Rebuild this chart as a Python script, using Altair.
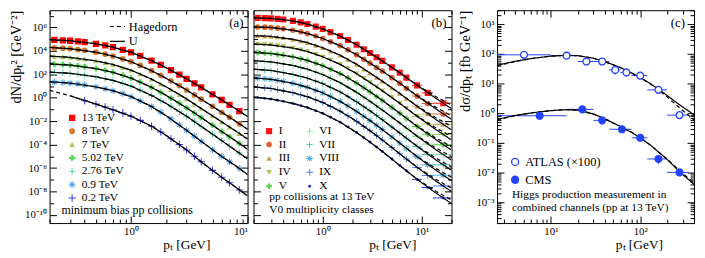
import altair as alt
import pandas as pd

FONT = "Liberation Serif"
BLUE = "#2344ff"
H = 215
WA, WB, WC = 200, 200, 199

# ---------------------------------------------------------------- panel (a)
a_series = ["13 TeV", "8 TeV", "7 TeV", "5.02 TeV", "2.76 TeV", "0.9 TeV", "0.2 TeV"]
a_colors = ["#ff0000", "#d27a2e", "#a6c84f", "#4fdc4f", "#3fcfa3", "#4ea6f2", "#3b3bff"]
a_pt = [0.22, 0.26, 0.3, 0.35, 0.4, 0.5, 0.6, 0.7, 0.85, 1.0, 1.2, 1.5, 1.8, 2.2,
        2.6, 3.0, 3.5, 4.0, 5.0, 6.0, 7.0, 8.5]
a_pt_02 = [0.4, 0.5, 0.6, 0.7, 0.85, 1.0, 1.2, 1.5, 1.8, 2.2, 2.6, 3.0, 3.5, 4.0,
           5.0, 6.0, 7.0, 8.5]
# log10 of dN/dpT^2
lg_a_13 = [4.94, 4.91, 4.87, 4.81, 4.75, 4.61, 4.47, 4.32, 4.10, 3.88, 3.58, 3.17, 2.80, 2.36, 1.97, 1.62, 1.22, 0.88, 0.30, -0.19, -0.61, -1.14]
lg_a_8 = [4.27, 4.24, 4.19, 4.12, 4.05, 3.89, 3.73, 3.56, 3.32, 3.08, 2.76, 2.31, 1.92, 1.45, 1.04, 0.66, 0.24, -0.12, -0.73, -1.24, -1.67, -2.22]
lg_a_7 = [3.54, 3.50, 3.45, 3.38, 3.31, 3.15, 3.00, 2.84, 2.60, 2.36, 2.04, 1.59, 1.18, 0.70, 0.28, -0.10, -0.54, -0.91, -1.54, -2.06, -2.50, -3.05]
lg_a_502 = [2.87, 2.84, 2.79, 2.72, 2.65, 2.49, 2.34, 2.17, 1.93, 1.68, 1.35, 0.89, 0.47, -0.02, -0.46, -0.86, -1.31, -1.69, -2.34, -2.88, -3.33, -3.90]
lg_a_276 = [2.17, 2.14, 2.09, 2.02, 1.95, 1.79, 1.64, 1.48, 1.24, 1.00, 0.66, 0.20, -0.23, -0.73, -1.18, -1.58, -2.04, -2.44, -3.10, -3.66, -4.13, -4.72]
lg_a_09 = [1.34, 1.30, 1.25, 1.18, 1.10, 0.93, 0.77, 0.60, 0.35, 0.10, -0.26, -0.75, -1.23, -1.79, -2.31, -2.78, -3.28, -3.72, -4.45, -5.01, -5.46, -6.03]
lg_a_02 = [-0.25, -0.54, -0.79, -1.03, -1.30, -1.57, -1.93, -2.43, -2.92, -3.49, -3.99, -4.46, -5.00, -5.47, -6.20, -6.79, -7.26, -7.87]

a_curve_pt = [0.2, 0.3, 0.5, 0.7, 1.0, 1.5, 2.0, 3.0, 4.0, 6.0, 8.0, 10.0]
lgc_a_13 = [4.96, 4.87, 4.61, 4.32, 3.88, 3.17, 2.57, 1.62, 0.88, -0.19, -0.97, -1.60]
lgc_a_8 = [4.30, 4.19, 3.89, 3.56, 3.08, 2.31, 1.67, 0.66, -0.12, -1.24, -2.04, -2.69]
lgc_a_7 = [3.56, 3.45, 3.15, 2.84, 2.36, 1.59, 0.93, -0.10, -0.91, -2.06, -2.87, -3.52]
lgc_a_502 = [2.89, 2.79, 2.49, 2.17, 1.68, 0.89, 0.21, -0.86, -1.69, -2.88, -3.72, -4.40]
lgc_a_276 = [2.19, 2.09, 1.79, 1.48, 1.00, 0.20, -0.49, -1.58, -2.44, -3.66, -4.54, -5.23]
lgc_a_09 = [1.37, 1.25, 0.93, 0.60, 0.10, -0.75, -1.53, -2.78, -3.72, -5.01, -5.85, -6.55]
lgc_a_02 = [0.63, 0.17, -0.54, -1.03, -1.57, -2.43, -3.21, -4.46, -5.47, -6.79, -7.67, -8.38]

# ---------------------------------------------------------------- panel (b)
b_series = ["I", "II", "III", "IV", "V", "VI", "VII", "VIII", "IX", "X"]
b_colors = ["#ff1414", "#e0602c", "#c9a043", "#a9c64c", "#58d84c", "#7ae08e", "#3fc2a2", "#4fb2e2", "#4a80f0", "#2233d4"]
b_pt = [0.22, 0.26, 0.3, 0.35, 0.4, 0.5, 0.6, 0.7, 0.85, 1.0, 1.2, 1.5, 1.8, 2.2,
        2.6, 3.0, 3.5, 4.0, 5.0, 6.0, 7.0, 9.0, 11.5, 16.5]
b_bin_lo = [8.0, 10.0, 13.0]
b_bin_hi = [10.0, 13.0, 20.0]
lg_b_I = [6.82, 6.80, 6.78, 6.74, 6.69, 6.57, 6.44, 6.30, 6.08, 5.88, 5.61, 5.27, 4.94, 4.53, 4.14, 3.82, 3.46, 3.15, 2.60, 2.14, 1.72, 1.06, 0.42, -0.47]
lg_b_II = [6.05, 6.03, 6.00, 5.95, 5.90, 5.77, 5.64, 5.49, 5.27, 5.06, 4.79, 4.44, 4.10, 3.68, 3.29, 2.96, 2.59, 2.28, 1.72, 1.25, 0.82, 0.15, -0.49, -1.38]
lg_b_III = [5.30, 5.27, 5.24, 5.19, 5.13, 4.99, 4.85, 4.71, 4.48, 4.27, 3.98, 3.63, 3.28, 2.86, 2.45, 2.12, 1.75, 1.42, 0.85, 0.37, -0.06, -0.73, -1.38, -2.27]
lg_b_IV = [4.58, 4.55, 4.51, 4.45, 4.39, 4.25, 4.10, 3.95, 3.71, 3.50, 3.21, 2.85, 2.49, 2.06, 1.65, 1.31, 0.93, 0.60, 0.02, -0.47, -0.91, -1.59, -2.25, -3.14]
lg_b_V = [3.86, 3.82, 3.78, 3.71, 3.65, 3.50, 3.34, 3.19, 2.95, 2.74, 2.44, 2.07, 1.70, 1.26, 0.85, 0.51, 0.11, -0.22, -0.82, -1.32, -1.76, -2.45, -3.11, -4.00]
lg_b_VI = [3.15, 3.11, 3.07, 2.99, 2.91, 2.76, 2.60, 2.45, 2.20, 1.98, 1.67, 1.29, 0.92, 0.47, 0.05, -0.30, -0.69, -1.04, -1.64, -2.15, -2.60, -3.29, -3.96, -4.85]
lg_b_VII = [2.42, 2.37, 2.33, 2.24, 2.16, 2.00, 1.83, 1.68, 1.43, 1.21, 0.89, 0.50, 0.12, -0.34, -0.76, -1.11, -1.52, -1.87, -2.49, -3.01, -3.45, -4.16, -4.83, -5.72]
lg_b_VIII = [1.68, 1.63, 1.58, 1.48, 1.40, 1.24, 1.06, 0.90, 0.64, 0.42, 0.10, -0.30, -0.69, -1.16, -1.58, -1.94, -2.36, -2.71, -3.34, -3.87, -4.32, -5.04, -5.72, -6.61]
lg_b_IX = [0.90, 0.84, 0.79, 0.69, 0.60, 0.43, 0.24, 0.09, -0.18, -0.40, -0.74, -1.14, -1.54, -2.01, -2.45, -2.81, -3.23, -3.60, -4.24, -4.78, -5.23, -5.95, -6.64, -7.53]
lg_b_X = [0.02, -0.05, -0.10, -0.21, -0.30, -0.48, -0.67, -0.83, -1.10, -1.33, -1.67, -2.08, -2.49, -2.97, -3.41, -3.78, -4.21, -4.58, -5.23, -5.78, -6.24, -6.97, -7.66, -8.55]

b_curve_pt = [0.2, 0.3, 0.5, 0.7, 1.0, 1.5, 2.2, 3.0, 4.0, 6.0, 9.0, 14.0, 20.0]
lgu_b_I = [6.83, 6.78, 6.57, 6.30, 5.88, 5.27, 4.53, 3.82, 3.15, 2.14, 1.06, -0.06, -0.93]
lgu_b_II = [6.06, 6.00, 5.77, 5.49, 5.06, 4.44, 3.68, 2.96, 2.28, 1.25, 0.15, -0.97, -1.84]
lgu_b_III = [5.31, 5.24, 4.99, 4.71, 4.27, 3.63, 2.86, 2.12, 1.42, 0.37, -0.73, -1.87, -2.74]
lgu_b_IV = [4.59, 4.51, 4.25, 3.95, 3.50, 2.85, 2.06, 1.31, 0.60, -0.47, -1.59, -2.73, -3.60]
lgu_b_V = [3.87, 3.78, 3.50, 3.19, 2.74, 2.07, 1.26, 0.51, -0.22, -1.32, -2.45, -3.59, -4.47]
lgu_b_VI = [3.16, 3.07, 2.76, 2.45, 1.98, 1.29, 0.47, -0.30, -1.04, -2.15, -3.29, -4.45, -5.32]
lgu_b_VII = [2.44, 2.33, 2.00, 1.68, 1.21, 0.50, -0.34, -1.11, -1.87, -3.01, -4.16, -5.32, -6.20]
lgu_b_VIII = [1.70, 1.58, 1.24, 0.90, 0.42, -0.30, -1.16, -1.94, -2.71, -3.87, -5.04, -6.20, -7.08]
lgu_b_IX = [0.93, 0.79, 0.43, 0.09, -0.40, -1.14, -2.01, -2.81, -3.60, -4.78, -5.95, -7.13, -8.01]
lgu_b_X = [0.06, -0.10, -0.48, -0.83, -1.33, -2.08, -2.97, -3.78, -4.58, -5.78, -6.97, -8.15, -9.03]
# Hagedorn curves coincide with U up to 6 GeV; their tails at 9, 14, 20 GeV
b_tail_pt = [9.0, 14.0, 20.0]
lgh_b_tail = [
    [1.09, 0.09, -0.63], [0.18, -0.82, -1.54], [-0.70, -1.72, -2.44], [-1.56, -2.58, -3.30],
    [-2.42, -3.44, -4.17], [-3.26, -4.30, -5.02], [-4.13, -5.17, -5.90], [-5.01, -6.05, -6.78],
    [-5.92, -6.98, -7.71], [-6.94, -8.00, -8.73],
]

# ---------------------------------------------------------------- panel (c)
c_exps = ["ATLAS (×100)", "CMS"]
atlas_pt = [5, 15, 25, 37.5, 52.5, 70, 100, 160, 275]
atlas_val = [94, 88, 56, 56, 29, 24, 18.7, 6.2, 0.87]
atlas_xlo = [2.5, 10, 20, 30, 45, 60, 80, 120, 200]
atlas_xhi = [10, 20, 30, 45, 60, 80, 120, 200, 350]
atlas_ylo = [82, 74, 44, 46, 20, 17, 15, 5.0, 0.68]
atlas_yhi = [106, 103, 70, 67, 38, 31, 23, 7.5, 1.08]
cms_pt = [7.5, 22.5, 37.5, 62.5, 100, 160, 275]
cms_val = [0.83, 1.36, 0.58, 0.29, 0.15, 0.029, 0.0102]
cms_xlo = [2.5, 15, 30, 45, 80, 120, 200]
cms_xhi = [15, 30, 45, 80, 120, 200, 350]
cms_ylo = [0.66, 1.16, 0.42, 0.23, 0.12, 0.020, 0.0085]
cms_yhi = [1.02, 1.58, 0.75, 0.36, 0.18, 0.038, 0.0120]
c_curve_pt = [2.5, 4, 6, 10, 15, 20, 30, 40, 60, 80, 100, 130, 160, 200, 278, 400]
atlas_u = [42, 57, 70, 85, 91, 88, 72, 56, 35, 23, 16, 10, 6.5, 4.0, 1.9, 0.9]
atlas_h = [40, 56, 70, 85, 91, 88, 72, 56, 35, 23, 16, 9.8, 6.2, 3.6, 1.5, 0.6]
cms_u = [0.62, 0.85, 1.03, 1.24, 1.33, 1.28, 0.95, 0.66, 0.36, 0.23, 0.15, 0.085, 0.05, 0.028, 0.0105, 0.0040]
cms_h = [0.60, 0.84, 1.03, 1.24, 1.33, 1.28, 0.95, 0.66, 0.36, 0.23, 0.15, 0.085, 0.05, 0.029, 0.0112, 0.0046]

# ---------------------------------------------------------------- helpers
THIN_PLUS = "M-1,-0.14H-0.14V-1H0.14V-0.14H1V0.14H0.14V1H-0.14V0.14H-1Z"
ASTER = THIN_PLUS + " M-0.8,-0.6L-0.6,-0.8L0.8,0.6L0.6,0.8Z M0.6,-0.8L0.8,-0.6L-0.6,0.8L-0.8,0.6Z"
a_shapes = ["square", "circle", "triangle-up", "cross", THIN_PLUS, ASTER, THIN_PLUS]
a_sizes = [40, 34, 32, 34, 44, 46, 56]
b_shapes = ["square", "circle", "triangle-up", "triangle-down", "cross", THIN_PLUS, THIN_PLUS, ASTER, THIN_PLUS, "circle"]
b_sizes = [38, 32, 30, 30, 32, 42, 42, 44, 46, 9]

MAJOR = "abs(log(datum.value)/LN10 - round(log(datum.value)/LN10)) < 0.001"
EVEN = "abs(round(log(datum.value)/LN10) % 2) < 0.5"
SUP = str.maketrans("-0123456789", "⁻⁰¹²³⁴⁵⁶⁷⁸⁹")


def sup(n):
    return "10" + str(n).translate(SUP)


def lab_expr(exps):
    return " : ".join(f"round(log(datum.value)/LN10) == {e} ? '{sup(e)}'" for e in exps) + " : ''"


def log_ticks(lo, hi, minor=True):
    out = []
    for e in range(-12, 9):
        for k in (range(1, 10) if minor else [1]):
            v = float(f"{k}e{e}")
            if lo * 0.9999 <= v <= hi * 1.0001:
                out.append(v)
    return out


def tick_axis(orient, offset, values, test=MAJOR):
    return alt.Axis(orient=orient, offset=offset, values=values, labels=False, domain=False,
                    ticks=True, tickColor="black", tickWidth=1, grid=False, title=None,
                    tickSize={"condition": {"test": test, "value": 7}, "value": 4})


def xlab_axis(exps, width, frac, flush=False):
    return alt.Axis(orient="bottom", values=[float(f"1e{e}") for e in exps], labelExpr=lab_expr(exps),
                    ticks=False, domain=False, grid=False, labelPadding=3, labelFlush=flush,
                    labelOverlap=False, labelFontSize=11, title="pₜ [GeV]", titleX=frac * width,
                    titleAlign="right", titlePadding=1, titleFontSize=13.5)


def ylab_axis(exps, title, tpad):
    return alt.Axis(orient="left", values=[float(f"1e{e}") for e in exps], labelExpr=lab_expr(exps),
                    ticks=False, domain=False, grid=False, labelPadding=3, labelFlush=False,
                    labelOverlap=False, labelFontSize=11, title=title, titleAnchor="end",
                    titlePadding=tpad, titleFontSize=14.5)


def text(s, x, y, align="left", size=11.5):
    return alt.Chart(pd.DataFrame({"t": [s]})).mark_text(
        align=align, baseline="middle", font=FONT, fontSize=size, color="black"
    ).encode(x=alt.value(x), y=alt.value(y), text="t:N")


def long_df(names, pts, lgs, extra=None):
    rows = []
    for name, p_list, l_list in zip(names, pts, lgs):
        for p, l in zip(p_list, l_list):
            r = {"pT": p, "val": 10 ** l, "series": name}
            if extra:
                r.update(extra)
            rows.append(r)
    return pd.DataFrame(rows)


dash_scale = alt.Scale(domain=["Hagedorn", "U"], range=[[4, 3], [1, 0]])

# ---------------------------------------------------------------- build (a)
a_lgs = [lg_a_13, lg_a_8, lg_a_7, lg_a_502, lg_a_276, lg_a_09, lg_a_02]
a_pts = [a_pt] * 6 + [a_pt_02]
a_clgs = [lgc_a_13, lgc_a_8, lgc_a_7, lgc_a_502, lgc_a_276, lgc_a_09, lgc_a_02]
df_a = long_df(a_series, a_pts, a_lgs)
df_a_h = long_df(a_series, [a_curve_pt] * 7, a_clgs, {"model": "Hagedorn"})
df_a_u = long_df(a_series, [a_curve_pt] * 6 + [a_curve_pt[1:]], a_clgs[:6] + [lgc_a_02[1:]], {"model": "U"})

xa = alt.Scale(type="log", domain=[0.2, 10], nice=False)
yab = alt.Scale(type="log", domain=[2e-11, 3e7], nice=False)
xa_t = log_ticks(0.2, 10)
yab_t = log_ticks(2e-11, 3e7, minor=False)

leg_a = alt.Legend(orient="none", legendX=17, legendY=103, title=None, symbolSize=52,
                   rowPadding=0.5, labelOffset=4, labelFontSize=11.5)
leg_dash = alt.Legend(orient="none", legendX=60, legendY=8, title=None, symbolType="stroke",
                      symbolSize=225, symbolStrokeWidth=1.1, symbolStrokeColor="black",
                      rowPadding=0, labelOffset=3, labelFontSize=12.5)

pts_a = alt.Chart(df_a).mark_point(filled=True, opacity=1, clip=True).encode(
    x=alt.X("pT:Q", scale=xa, axis=tick_axis("top", -H, xa_t)),
    y=alt.Y("val:Q", scale=yab, axis=tick_axis("right", -WA, yab_t, EVEN)),
    color=alt.Color("series:N", scale=alt.Scale(domain=a_series, range=a_colors), legend=leg_a),
    shape=alt.Shape("series:N", scale=alt.Scale(domain=a_series, range=a_shapes), legend=leg_a),
    size=alt.Size("series:N", scale=alt.Scale(type="ordinal", domain=a_series, range=a_sizes), legend=None),
)
hag_a = alt.Chart(df_a_h).mark_line(color="black", strokeWidth=1.2, clip=True).encode(
    x=alt.X("pT:Q", scale=xa, axis=tick_axis("bottom", -H, xa_t)),
    y=alt.Y("val:Q", scale=yab, axis=tick_axis("left", -WA, yab_t, EVEN)),
    detail="series:N",
    strokeDash=alt.StrokeDash("model:N", scale=dash_scale, legend=leg_dash),
)
u_a = alt.Chart(df_a_u).mark_line(color="black", strokeWidth=1.2, clip=True).encode(
    x=alt.X("pT:Q", scale=xa, axis=xlab_axis([0, 1], WA, 0.81, flush=True)),
    y=alt.Y("val:Q", scale=yab, axis=ylab_axis(list(range(-10, 7, 2)), "dN/dpₜ² [GeV⁻²]", 1)),
    detail="series:N",
    strokeDash=alt.StrokeDash("model:N", scale=dash_scale, legend=leg_dash),
)
panel_a = alt.layer(
    pts_a, hag_a, u_a,
    text("(a)", WA - 4, 13, "right", 13),
    text("minimum bias pp collisions", 12, 202, size=12),
).resolve_axis(x="independent", y="independent").properties(width=WA, height=H)

# ---------------------------------------------------------------- build (b)
b_lgs = [lg_b_I, lg_b_II, lg_b_III, lg_b_IV, lg_b_V, lg_b_VI, lg_b_VII, lg_b_VIII, lg_b_IX, lg_b_X]
b_ulgs = [lgu_b_I, lgu_b_II, lgu_b_III, lgu_b_IV, lgu_b_V, lgu_b_VI, lgu_b_VII, lgu_b_VIII, lgu_b_IX, lgu_b_X]
b_hlgs = [u[:10] + t for u, t in zip(b_ulgs, lgh_b_tail)]
df_b = long_df(b_series, [b_pt] * 10, b_lgs)
df_b_u = long_df(b_series, [b_curve_pt] * 10, b_ulgs, {"model": "U"})
df_b_h = long_df(b_series, [b_curve_pt[:10] + b_tail_pt] * 10, b_hlgs, {"model": "Hagedorn"})
err_rows = []
for name, col, lgs in zip(b_series, b_colors, b_lgs):
    for lo, hi, l in zip(b_bin_lo, b_bin_hi, lgs[-3:]):
        err_rows.append({"lo": lo, "hi": hi, "val": 10 ** l, "hex": col})
df_b_err = pd.DataFrame(err_rows)

xb = alt.Scale(type="log", domain=[0.2, 20], nice=False)
xb_t = log_ticks(0.2, 20)
leg_b = alt.Legend(orient="none", legendX=10, legendY=116, title=None, columns=2, columnPadding=13,
                   symbolSize=52, rowPadding=1.0, labelOffset=4, labelFontSize=11.5)

pts_b = alt.Chart(df_b).mark_point(filled=True, opacity=1, clip=True).encode(
    x=alt.X("pT:Q", scale=xb, axis=tick_axis("top", -H, xb_t)),
    y=alt.Y("val:Q", scale=yab, axis=tick_axis("right", -WB, yab_t, EVEN)),
    color=alt.Color("series:N", scale=alt.Scale(domain=b_series, range=b_colors), legend=leg_b),
    shape=alt.Shape("series:N", scale=alt.Scale(domain=b_series, range=b_shapes), legend=leg_b),
    size=alt.Size("series:N", scale=alt.Scale(type="ordinal", domain=b_series, range=b_sizes), legend=None),
)
err_b = alt.Chart(df_b_err).mark_rule(strokeWidth=1, clip=True).encode(
    x=alt.X("lo:Q", scale=xb, axis=None), x2="hi:Q",
    y=alt.Y("val:Q", scale=yab, axis=None),
    color=alt.Color("hex:N", scale=None),
)
hag_b = alt.Chart(df_b_h).mark_line(color="black", strokeWidth=1.2, clip=True).encode(
    x=alt.X("pT:Q", scale=xb, axis=tick_axis("bottom", -H, xb_t)),
    y=alt.Y("val:Q", scale=yab, axis=tick_axis("left", -WB, yab_t, EVEN)),
    detail="series:N",
    strokeDash=alt.StrokeDash("model:N", scale=dash_scale, legend=None),
)
u_b = alt.Chart(df_b_u).mark_line(color="black", strokeWidth=1.2, clip=True).encode(
    x=alt.X("pT:Q", scale=xb, axis=xlab_axis([0, 1], WB, 0.82)),
    y=alt.Y("val:Q", scale=yab, axis=None),
    detail="series:N",
    strokeDash=alt.StrokeDash("model:N", scale=dash_scale, legend=None),
)
panel_b = alt.layer(
    err_b, pts_b, hag_b, u_b,
    text("(b)", WB - 5, 13, "right", 13),
    text("pp collisions at 13 TeV", 16, 188.5),
    text("V0 multiplicity classes", 16, 201.5),
).resolve_axis(x="independent", y="independent").properties(width=WB, height=H)

# ---------------------------------------------------------------- build (c)
df_c = pd.DataFrame({
    "pT": atlas_pt + cms_pt,
    "val": atlas_val + cms_val,
    "xlo": atlas_xlo + cms_xlo, "xhi": atlas_xhi + cms_xhi,
    "ylo": atlas_ylo + cms_ylo, "yhi": atlas_yhi + cms_yhi,
    "exp": [c_exps[0]] * len(atlas_pt) + [c_exps[1]] * len(cms_pt),
})
df_c_u = pd.DataFrame({"pT": c_curve_pt * 2, "val": atlas_u + cms_u,
                       "series": ["ATLAS"] * len(c_curve_pt) + ["CMS"] * len(c_curve_pt), "model": "U"})
df_c_h = pd.DataFrame({"pT": c_curve_pt * 2, "val": atlas_h + cms_h,
                       "series": ["ATLAS"] * len(c_curve_pt) + ["CMS"] * len(c_curve_pt), "model": "Hagedorn"})
xc = alt.Scale(type="log", domain=[2.5, 400], nice=False)
yc = alt.Scale(type="log", domain=[2e-4, 3e3], nice=False)
xc_t = log_ticks(2.5, 400)
yc_t = log_ticks(2e-4, 3e3)
leg_c = alt.Legend(orient="none", legendX=12, legendY=147, title=None, symbolType="circle",
                   symbolSize=50, symbolStrokeColor=BLUE, symbolStrokeWidth=1.3,
                   rowPadding=5, labelOffset=4, labelFontSize=12.5)

errx_c = alt.Chart(df_c).mark_rule(color=BLUE, strokeWidth=1, clip=True).encode(
    x=alt.X("xlo:Q", scale=xc, axis=None), x2="xhi:Q",
    y=alt.Y("val:Q", scale=yc, axis=None),
)
erry_c = alt.Chart(df_c).mark_rule(color=BLUE, strokeWidth=1, clip=True).encode(
    x=alt.X("pT:Q", scale=xc, axis=None),
    y=alt.Y("ylo:Q", scale=yc, axis=None), y2="yhi:Q",
)
pts_c = alt.Chart(df_c).mark_point(shape="circle", size=48, filled=True, opacity=1,
                                   stroke=BLUE, strokeWidth=1.3, clip=True).encode(
    x=alt.X("pT:Q", scale=xc, axis=tick_axis("top", -H, xc_t)),
    y=alt.Y("val:Q", scale=yc, axis=tick_axis("right", -WC, yc_t)),
    fill=alt.Fill("exp:N", scale=alt.Scale(domain=c_exps, range=["white", BLUE]), legend=leg_c),
)
hag_c = alt.Chart(df_c_h).mark_line(color="black", strokeWidth=1.2, clip=True).encode(
    x=alt.X("pT:Q", scale=xc, axis=tick_axis("bottom", -H, xc_t)),
    y=alt.Y("val:Q", scale=yc, axis=tick_axis("left", -WC, yc_t)),
    detail="series:N",
    strokeDash=alt.StrokeDash("model:N", scale=dash_scale, legend=None),
)
u_c = alt.Chart(df_c_u).mark_line(color="black", strokeWidth=1.2, clip=True).encode(
    x=alt.X("pT:Q", scale=xc, axis=xlab_axis([1, 2], WC, 0.84)),
    y=alt.Y("val:Q", scale=yc, axis=ylab_axis(list(range(-3, 4)), "dσ/dpₜ [fb GeV⁻¹]", 4)),
    detail="series:N",
    strokeDash=alt.StrokeDash("model:N", scale=dash_scale, legend=None),
)
panel_c = alt.layer(
    errx_c, erry_c, hag_c, u_c, pts_c,
    text("(c)", WC - 9, 13, "right", 13),
    text("Higgs production measurement in", 15, 186.5),
    text("combined channels (pp at 13 TeV)", 15, 199.5),
).resolve_axis(x="independent", y="independent").properties(width=WC, height=H)

chart = alt.hconcat(panel_a, panel_b, panel_c, spacing=4).resolve_scale(
    color="independent", shape="independent", size="independent",
    strokeDash="independent", fill="independent",
).properties(padding={"left": 0, "top": 0, "right": 2, "bottom": 0}).configure(
    font=FONT
).configure_view(stroke="black", strokeWidth=1).configure_axis(
    labelFont=FONT, titleFont=FONT, labelColor="black", titleColor="black",
    titleFontWeight="normal", grid=False,
).configure_legend(labelFont=FONT, labelColor="black")

chart.save("out.html", embed_options={"renderer": "svg", "actions": False})
